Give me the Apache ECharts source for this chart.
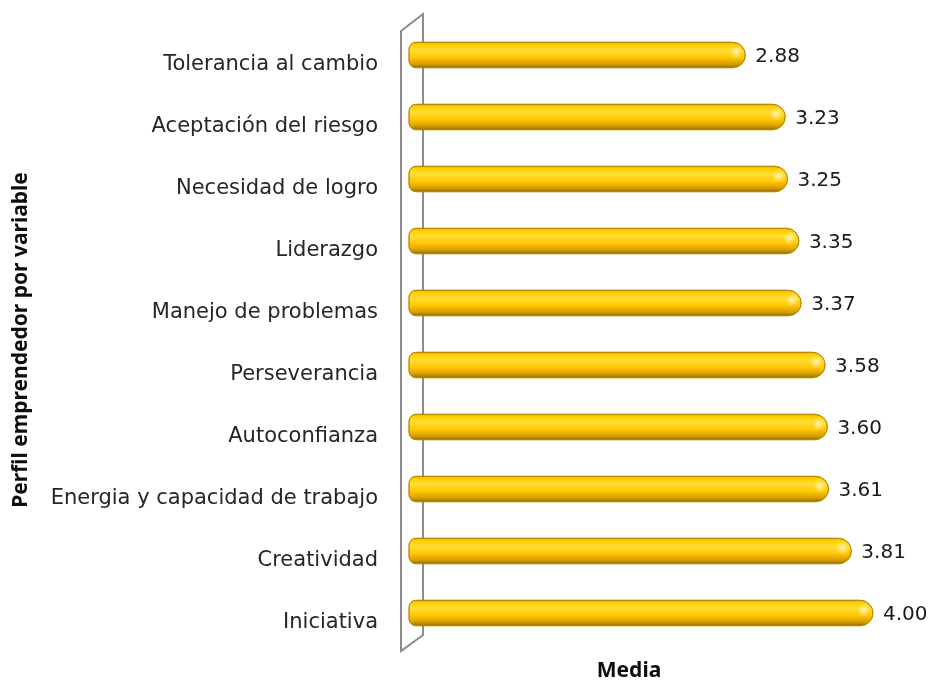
<!DOCTYPE html>
<html>
<head>
<meta charset="utf-8">
<script src="https://cdn.jsdelivr.net/npm/echarts@6/dist/echarts.min.js"></script>
<style>
  html, body { margin: 0; padding: 0; background: #ffffff; }
  #chart { width: 933px; height: 681px; }
</style>
</head>
<body>
<div id="chart"></div>
<script>
// Perfil emprendedor: media por variable
const categories = [
  'Tolerancia al cambio',
  'Aceptación del riesgo',
  'Necesidad de logro',
  'Liderazgo',
  'Manejo de problemas',
  'Perseverancia',
  'Autoconfianza',
  'Energia y capacidad de trabajo',
  'Creatividad',
  'Iniciativa'
];
const medias = [2.88, 3.23, 3.25, 3.35, 3.37, 3.58, 3.60, 3.61, 3.81, 4.00];
const yTitle = 'Perfil emprendedor por variable';
const xTitle = 'Media';

const FONT = '"DejaVu Sans", "Noto Sans", sans-serif';
const TITLE_FONT = '"Noto Sans", "Open Sans", sans-serif';
const chart = echarts.init(document.getElementById('chart'), null, { renderer: 'canvas' });

const goldFill = new echarts.graphic.LinearGradient(0, 0, 0, 1, [
  { offset: 0, color: '#D9A300' },
  { offset: 0.1, color: '#FFCE00' },
  { offset: 0.32, color: '#FFDD33' },
  { offset: 0.6, color: '#FFC600' },
  { offset: 0.85, color: '#D49D00' },
  { offset: 1, color: '#8E6700' }
]);

function renderCylinder(params, api) {
  const v = api.value(0);
  const idx = api.value(1);
  const start = api.coord([0, idx]);
  const end = api.coord([v, idx]);
  const band = api.size([0, 1])[1];
  const h = band * 0.41;
  const x0 = start[0] - 8;
  const x1 = end[0];
  const y0 = start[1] - h / 2;
  return {
    type: 'group',
    children: [
      {
        type: 'rect',
        shape: { x: x0, y: y0, width: x1 - x0, height: h, r: [7, h / 2, h / 2, 7] },
        style: { fill: goldFill, stroke: '#B38600', lineWidth: 0.8 }
      },
      {
        type: 'circle',
        shape: { cx: x1 - 9, cy: start[1] - 3, r: 7 },
        style: {
          fill: new echarts.graphic.RadialGradient(0.5, 0.5, 0.5, [
            { offset: 0, color: 'rgba(255,250,210,0.85)' },
            { offset: 1, color: 'rgba(255,240,150,0)' }
          ])
        }
      },
      {
        type: 'text',
        style: {
          text: api.value(0).toFixed(2),
          x: x1 + 10,
          y: start[1] + 2,
          textAlign: 'left',
          textVerticalAlign: 'middle',
          fontSize: 20,
          fontFamily: FONT,
          fill: '#1a1a1a'
        }
      }
    ]
  };
}

chart.setOption({
  backgroundColor: '#ffffff',
  animation: false,
  grid: { left: 417, right: 3, top: 24, bottom: 37 },
  xAxis: {
    type: 'value', min: 0, max: 4.5,
    show: false
  },
  yAxis: {
    type: 'category',
    inverse: true,
    data: categories,
    axisLine: { show: false },
    axisTick: { show: false },
    splitLine: { show: false },
    axisLabel: {
      interval: 0,
      margin: 39,
      fontSize: 21,
      fontFamily: FONT,
      color: '#262626',
      verticalAlign: 'top',
      lineHeight: 19
    }
  },
  series: [{
    type: 'custom',
    renderItem: renderCylinder,
    encode: { x: 0, y: 1 },
    data: medias.map((v, i) => [v, i]),
    z: 10
  }]
});

// Side wall of the 3D plot area, placed from the grid's pixel bounds
const xZero = chart.convertToPixel({ xAxisIndex: 0 }, 0);
const gridTop = 24;
const gridBottom = 681 - 37;
const front = xZero - 16, back = xZero + 6;
chart.setOption({
  graphic: [
    {
      type: 'polygon',
      z: 1,
      shape: { points: [
        [front, gridTop + 7], [back, gridTop - 10],
        [back, gridBottom - 9], [front, gridBottom + 7]
      ] },
      style: { fill: 'rgba(255,255,255,0)', stroke: '#8C8C8C', lineWidth: 2 }
    },
    {
      type: 'text',
      x: 21, y: 340, rotation: Math.PI / 2,
      style: {
        text: yTitle, textAlign: 'center', textVerticalAlign: 'middle',
        fontSize: 21, fontWeight: 'bold', fontFamily: TITLE_FONT, fill: '#0d0d0d'
      }
    },
    {
      type: 'text',
      x: 629, y: 671,
      style: {
        text: xTitle, textAlign: 'center', textVerticalAlign: 'middle',
        fontSize: 21, fontWeight: 'bold', fontFamily: TITLE_FONT, fill: '#0d0d0d'
      }
    }
  ]
});
</script>
</body>
</html>
